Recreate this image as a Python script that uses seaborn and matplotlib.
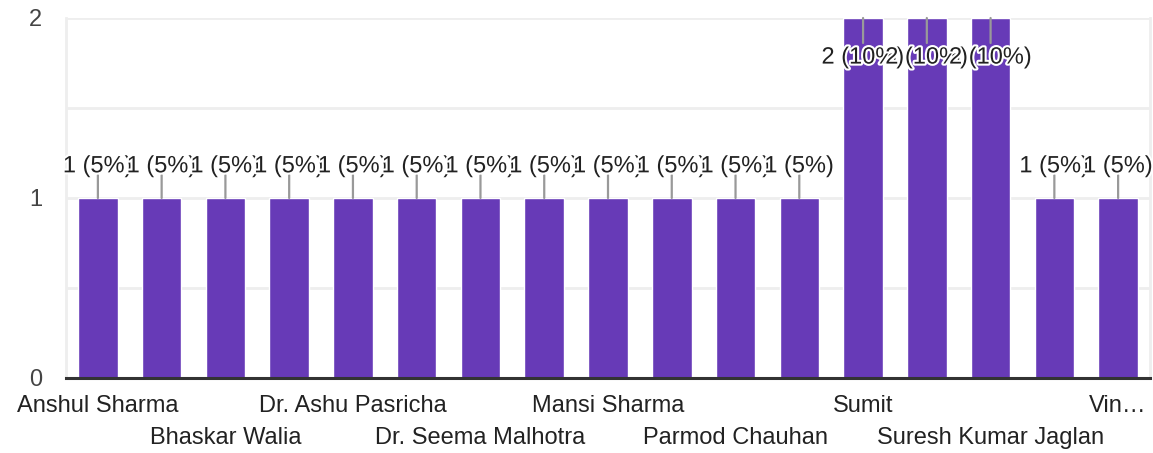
import numpy as np
import pandas as pd
import matplotlib
matplotlib.use("Agg")
import matplotlib.pyplot as plt
import matplotlib.patheffects as pe
import seaborn as sns

# ---- data ----
tick_labels = ["Anshul Sharma", "", "Bhaskar Walia", "", "Dr. Ashu Pasricha", "",
               "Dr. Seema Malhotra", "", "Mansi Sharma", "", "Parmod Chauhan", "",
               "Sumit", "", "Suresh Kumar Jaglan", "", "Vin…"]
counts = [1, 1, 1, 1, 1, 1, 1, 1, 1, 1, 1, 1, 2, 2, 2, 1, 1]
percents = [5, 5, 5, 5, 5, 5, 5, 5, 5, 5, 5, 5, 10, 10, 10, 5, 5]
y_ticks = [0, 1, 2]

sns.set_theme(style="white")
plt.rcParams["font.family"] = ["Liberation Sans", "DejaVu Sans"]

FS = 17.0

df = pd.DataFrame({"pos": list(range(len(counts))), "count": counts})

fig = plt.figure(figsize=(11.53, 4.53), dpi=100)
ax = fig.add_axes([66 / 1153, 75 / 453, (1150 - 66) / 1153, 360 / 453])

sns.barplot(data=df, x="pos", y="count", color="#673AB7", saturation=1,
            width=0.62, ax=ax, zorder=3)

ymax = 2
ax.set_ylim(0, ymax)
ax.set_xlim(-0.5, len(counts) - 0.5)
ax.set_xlabel("")
ax.set_ylabel("")

# grid
ax.set_yticks(y_ticks)
ax.set_yticks([0.5, 1.5], minor=True)
ax.grid(axis="y", which="both", color="#eeeeee", lw=2, zorder=0)
ax.grid(axis="x", visible=False)
for side in ["left", "right"]:
    ax.spines[side].set_color("#eeeeee")
    ax.spines[side].set_linewidth(2)
ax.spines["top"].set_visible(False)
ax.spines["bottom"].set_color("#333333")
ax.spines["bottom"].set_linewidth(2.2)
ax.spines["bottom"].set_zorder(5)

ax.tick_params(axis="y", which="both", length=0, pad=17, labelsize=FS,
               labelcolor="#444444")

# two-row category labels
major_idx = [i for i in range(0, len(tick_labels), 4)]
minor_idx = [i for i in range(2, len(tick_labels), 4)]
ax.set_xticks(major_idx)
ax.set_xticklabels([tick_labels[i] for i in major_idx])
ax.set_xticks(minor_idx, minor=True)
ax.set_xticklabels([tick_labels[i] for i in minor_idx], minor=True)
ax.tick_params(axis="x", which="major", length=0, pad=12.5, labelsize=FS,
               labelcolor="#222222")
ax.tick_params(axis="x", which="minor", length=0, pad=35.5, labelsize=FS,
               labelcolor="#222222")

# value labels with leader lines
halo = [pe.withStroke(linewidth=3, foreground="white")]
for i, (c, p) in enumerate(zip(counts, percents)):
    txt = f"{c} ({p}%)"
    if c >= ymax:
        ax.annotate("", xy=(i, ymax), xytext=(0, -18), textcoords="offset points",
                    arrowprops=dict(arrowstyle="-", color="#999999", lw=1.6,
                                    shrinkA=0, shrinkB=0), zorder=6)
        ax.annotate(txt, xy=(i, ymax), xytext=(0, -28.5), textcoords="offset points",
                    ha="center", va="center", fontsize=FS, color="#212121",
                    path_effects=halo, zorder=7 + i, annotation_clip=False)
    else:
        ax.annotate("", xy=(i, c), xytext=(0, 16.5), textcoords="offset points",
                    arrowprops=dict(arrowstyle="-", color="#999999", lw=1.6,
                                    shrinkA=0, shrinkB=0), zorder=6)
        ax.annotate(txt, xy=(i, c), xytext=(0, 22.8), textcoords="offset points",
                    ha="center", va="center", fontsize=FS, color="#212121",
                    path_effects=halo, zorder=7 + i, annotation_clip=False)

fig.savefig("out.png", dpi=100, facecolor="white")
